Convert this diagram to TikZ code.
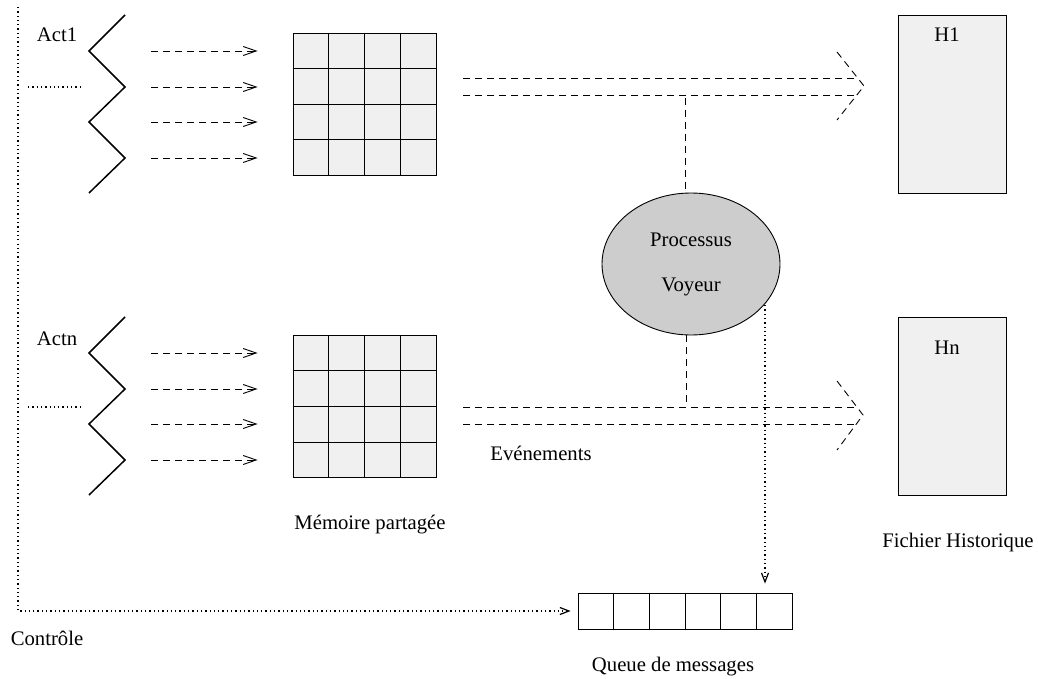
\documentclass[tikz,border=0pt]{standalone}
\usepackage{fontspec}
\setmainfont{Liberation Serif}
\usetikzlibrary{arrows.meta,shapes.geometric,calc}
\definecolor{cellfill}{RGB}{240,240,240}
\definecolor{voyeurfill}{RGB}{205,205,205}

\begin{document}
\begin{tikzpicture}[x=1pt,y=-1pt,
  lbl/.style={font=\fontsize{20.7}{24}\selectfont, inner sep=0pt},
  gridbox/.style={draw, line width=0.9pt, fill=cellfill, minimum width=143pt, minimum height=142pt, inner sep=0pt},
  histbox/.style={draw, line width=0.9pt, fill=cellfill, minimum width=108pt, minimum height=178pt, inner sep=0pt},
  queuebox/.style={draw, line width=0.9pt, fill=white, minimum width=214pt, minimum height=36pt, inner sep=0pt},
  voyeur/.style={draw, ellipse, line width=0.9pt, fill=voyeurfill, minimum width=178pt, minimum height=142pt, inner sep=0pt, align=center, font=\fontsize{20.7}{45}\selectfont},
  cell/.style={line width=0.9pt},
  actor/.style={line width=1.5pt},
  flow/.style={line width=0.9pt, dash pattern=on 7pt off 5pt, -{Straight Barb[length=13pt,width=9pt]}},
  bigflow/.style={line width=0.9pt, dash pattern=on 7pt off 5pt},
  ctl/.style={line width=1.2pt, dash pattern=on 1.3pt off 3pt},
  ctlarrow/.style={ctl, -{Straight Barb[length=9pt,width=7pt]}}]
\useasboundingbox (0,0) rectangle (1038,679);

% shared memory grids
\node[gridbox] (m1) at (364.5,104) {};
\node[gridbox] (mn) at (364.5,406.5) {};
\foreach \g in {m1,mn}{
  \foreach \i in {1,2,3}{
    \draw[cell] ($(\g.north west)!\i/4!(\g.north east)$) -- ($(\g.south west)!\i/4!(\g.south east)$);
    \draw[cell] ($(\g.north west)!\i/4!(\g.south west)$) -- ($(\g.north east)!\i/4!(\g.south east)$);
  }
}
\node[lbl] (mlab) at (370,525) {Mémoire partagée};

% history files
\node[histbox] (h1) at (952,104) {};
\node[histbox] (hn) at (952,406) {};
\node[lbl] (h1lab) at (947,35) {H1};
\node[lbl] (hnlab) at (947,348) {Hn};
\node[lbl] (hlab) at (958,543) {Fichier Historique};

% message queue
\node[queuebox] (queue) at (685,611) {};
\foreach \i in {1,...,5}{
  \draw[cell] ($(queue.north west)!\i/6!(queue.north east)$) -- ($(queue.south west)!\i/6!(queue.south east)$);
}
\node[lbl] (qlab) at (673,667) {Queue de messages};

% observer process
\node[voyeur] (voy) at (691,264) {Processus\\Voyeur};

% actors
\draw[actor] (125,15) -- (89,51) -- (125,87) -- (89,122) -- (125,158) -- (89,193);
\draw[actor] (125,317) -- (89,353) -- (125,389) -- (89,424) -- (125,460) -- (89,495);
\node[lbl] (a1lab) at (57,35) {Act1};
\node[lbl] (anlab) at (57,339) {Actn};

% writes into shared memory
\foreach \y [count=\k] in {51,87,122,158}{
  \coordinate (s1\k) at (151,\y);
  \coordinate (t1\k) at (m1.west |- 0,\y);
  \draw[flow] (s1\k) -- ($(t1\k)+(-35,0)$);
}
\foreach \y [count=\k] in {353,389,424,460}{
  \coordinate (sn\k) at (151,\y);
  \coordinate (tn\k) at (mn.west |- 0,\y);
  \draw[flow] (sn\k) -- ($(tn\k)+(-35,0)$);
}

% event streams towards the history files
\coordinate (e1a) at (463,78);  \coordinate (e1b) at (463,95);
\coordinate (f1a) at (857,78);  \coordinate (f1b) at (857,95);
\draw[bigflow] (e1a) -- (f1a);
\draw[bigflow] (e1b) -- (f1b);
\draw[bigflow] (837,52) -- (864,86) -- (837,120);

\coordinate (ena) at (463,407); \coordinate (enb) at (463,424);
\coordinate (fna) at (857,407); \coordinate (fnb) at (857,424);
\draw[bigflow] (ena) -- (fna);
\draw[bigflow] (enb) -- (fnb);
\draw[bigflow] (837,381) -- (863,415) -- (837,450);
\node[lbl] (evlab) at (541,453) {Evénements};

% observer taps
\coordinate (tap1) at (685,98);
\coordinate (tapn) at (686,406);
\draw[bigflow] (tap1) -- (tap1 |- voy.north);
\draw[bigflow] (voy.south -| tapn) -- (tapn);

% observer posts to the message queue
\coordinate (vout) at (765,305);
\draw[ctlarrow, shorten >=9pt] (vout) -- (vout |- queue.north);

% control
\draw[ctl] (28,87) -- (81,87);
\draw[ctl] (28,407) -- (81,407);
\draw[ctlarrow, shorten >=7pt] (18,7) -- (18,611) -- (queue.west);
\node[lbl] (clab) at (47,638) {Contrôle};
\end{tikzpicture}
\end{document}
